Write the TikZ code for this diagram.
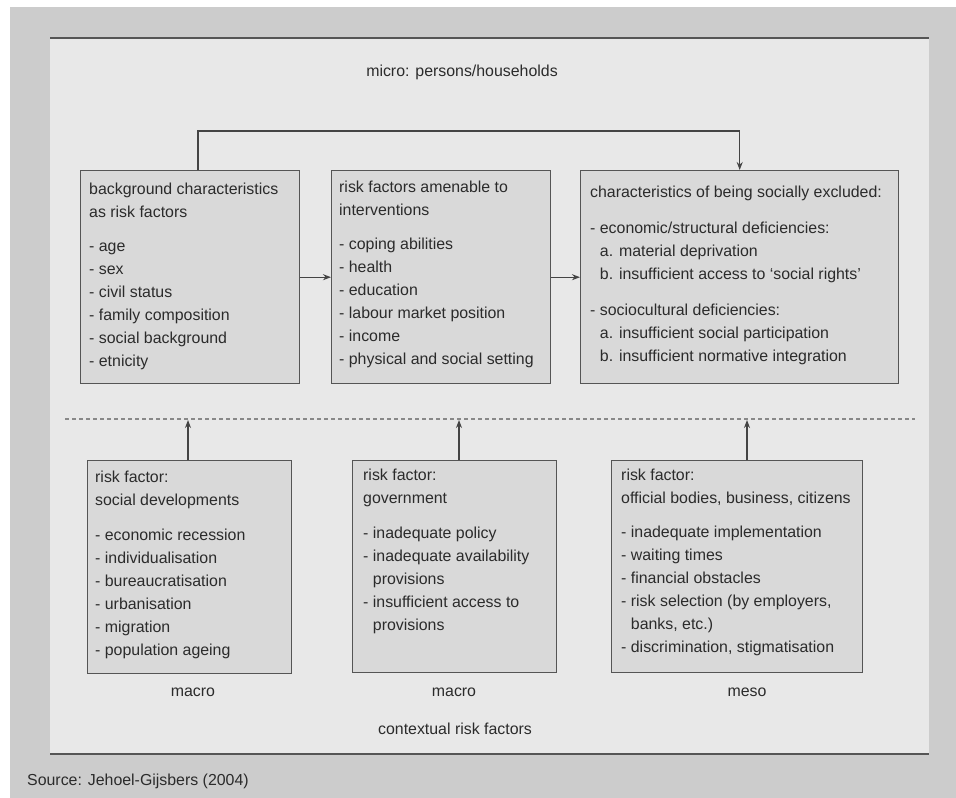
\documentclass[tikz,border=0pt]{standalone}
\usepackage{fontspec}
\setmainfont{Liberation Sans}
\usetikzlibrary{arrows.meta,calc}
\definecolor{outergrey}{HTML}{CCCCCC}
\definecolor{panelgrey}{HTML}{E8E8E8}
\definecolor{boxgrey}{HTML}{D9D9D9}
\definecolor{linegrey}{HTML}{555555}
\definecolor{txtcol}{HTML}{2B2B2B}
\newcommand\dashind{\phantom{-}\ }
\begin{document}
\begin{tikzpicture}[x=1pt,y=-1pt,
  boxnode/.style={draw=linegrey,line width=1.4pt,fill=boxgrey,anchor=north west,inner sep=0pt},
  txt/.style={anchor=north west,align=left,inner sep=0pt,text=txtcol,font=\fontsize{15.9}{23}\selectfont},
  lbl/.style={inner sep=0pt,text=txtcol,font=\fontsize{15.9}{23}\selectfont},
  arr/.style={draw=linegrey!80!black,line width=1.2pt,-{Stealth[length=8pt,width=6pt]}},
  conn/.style={draw=linegrey!80!black,line width=1.2pt}]
\useasboundingbox (0,0) rectangle (956,798);
\fill[white] (0,0) rectangle (956,798);
\fill[outergrey] (10,7) rectangle (956,798);
\fill[panelgrey] (50,38) rectangle (929,754);
\draw[linegrey,line width=1.3pt] (50,38) -- (929,38);
\draw[linegrey,line width=1.5pt] (50,754) -- (929,754);

\node[lbl] (micro) at (462,72) {micro: persons/households};

% upper boxes
\node[boxnode,minimum width=219pt,minimum height=213pt] (b1) at (80,170) {};
\node[txt] (t1) at ([shift={(9,8)}]b1.north west) {\strut background characteristics\\as risk factors\\[11pt]
- age\\- sex\\- civil status\\- family composition\\- social background\\- etnicity};

\node[boxnode,minimum width=219pt,minimum height=213pt] (b2) at (331,170) {};
\node[txt] (t2) at ([shift={(8,6)}]b2.north west) {\strut risk factors amenable to\\interventions\\[11pt]
- coping abilities\\- health\\- education\\- labour market position\\- income\\- physical and social setting};

\node[boxnode,minimum width=318pt,minimum height=213pt] (b3) at (580,170) {};
\node[txt] (t3) at ([shift={(10,11)}]b3.north west) {\strut characteristics of being socially excluded:\\[13pt]
- economic/structural deficiencies:\\\dashind a. material deprivation\\\dashind b. insufficient access to ‘social rights’\\[13pt]
- sociocultural deficiencies:\\\dashind a. insufficient social participation\\\dashind b. insufficient normative integration};

% connectors upper
\coordinate (c1) at ($(b1.north west)+(118,-39)$);
\draw[conn] ($(b1.north west)+(118,0)$) -- (c1) -- (c1 -| b3.north);
\draw[arr] (c1 -| b3.north) -- (b3.north);
\draw[arr] (b1.east) -- (b2.west);
\draw[arr] (b2.east) -- (b3.west);

% dashed line
\coordinate (dl) at (65,419);
\coordinate (dr) at (915,419);
\draw[linegrey!70,line width=1.1pt,dash pattern=on 4pt off 3pt] (dl) -- (dr);

% lower boxes
\node[boxnode,minimum width=204pt,minimum height=213pt] (b4) at (87,460) {};
\node[txt] (t4) at ([shift={(8,6)}]b4.north west) {\strut risk factor:\\social developments\\[12pt]
- economic recession\\- individualisation\\- bureaucratisation\\- urbanisation\\- migration\\- population ageing};

\node[boxnode,minimum width=204pt,minimum height=212pt] (b5) at (352,460) {};
\node[txt] (t5) at ([shift={(11,4)}]b5.north west) {\strut risk factor:\\government\\[12pt]
- inadequate policy\\- inadequate availability\\\dashind provisions\\- insufficient access to\\\dashind provisions};

\node[boxnode,minimum width=251pt,minimum height=212pt] (b6) at (611,460) {};
\node[txt] (t6) at ([shift={(10,4)}]b6.north west) {\strut risk factor:\\official bodies, business, citizens\\[11pt]
- inadequate implementation\\- waiting times\\- financial obstacles\\- risk selection (by employers,\\\dashind banks, etc.)\\- discrimination, stigmatisation};

% lower arrows
\coordinate (d1) at (188,420);
\coordinate (d2) at (459,420);
\coordinate (d3) at (747,420);
\draw[arr] (b4.north -| d1) -- (d1);
\draw[arr] (b5.north -| d2) -- (d2);
\draw[arr] (b6.north -| d3) -- (d3);

% labels
\node[lbl] (m1) at (193,692) {macro};
\node[lbl] (m2) at (454,692) {macro};
\node[lbl] (m3) at (747,692) {meso};
\node[lbl] (ctx) at (455,729) {contextual risk factors};
\node[lbl,anchor=west] (src) at (27,781) {Source: Jehoel-Gijsbers (2004)};
\end{tikzpicture}
\end{document}
